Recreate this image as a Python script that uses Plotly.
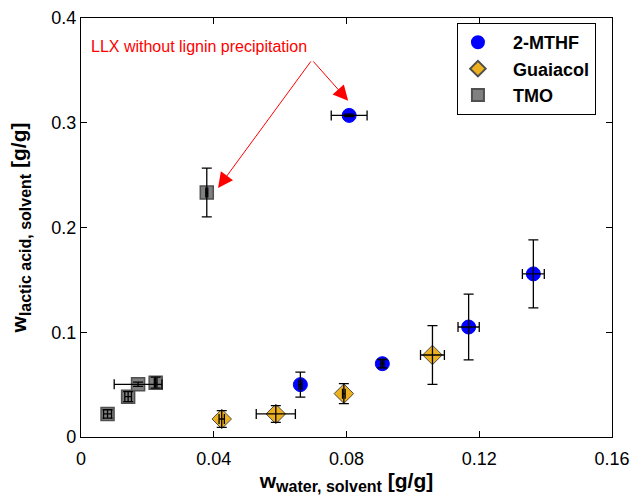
import plotly.graph_objects as go

# ---- data ----
mthf_x = [0.0808, 0.0661, 0.0908, 0.1168, 0.1363]
mthf_y = [0.307, 0.050, 0.070, 0.105, 0.1557]
mthf_xerr = [0.0054, 0.0005, 0.0005, 0.0032, 0.0033]
mthf_yerr = [0.0012, 0.012, 0.004, 0.0314, 0.0325]

gua_x = [0.0424, 0.0587, 0.0792, 0.1059]
gua_y = [0.0172, 0.022, 0.0414, 0.0783]
gua_xerr = [0.0008, 0.0059, 0.0004, 0.0036]
gua_yerr = [0.008, 0.008, 0.0096, 0.028]

tmo_x = [0.0379, 0.0080, 0.0142, 0.0172, 0.0225]
tmo_y = [0.2334, 0.022, 0.0385, 0.0503, 0.0519]
tmo_xerr = [0.0003, 0.0012, 0.0010, 0.0072, 0.0004]
tmo_yerr = [0.0232, 0.004, 0.0048, 0.0020, 0.0052]

x_ticks = [0, 0.04, 0.08, 0.12, 0.16]
x_labels = ["0", "0.04", "0.08", "0.12", "0.16"]
y_ticks = [0, 0.1, 0.2, 0.3, 0.4]
y_labels = ["0", "0.1", "0.2", "0.3", "0.4"]

note_text = "LLX without lignin precipitation"
note_pos = (0.0024, 0.3725)
arrow_tail = (0.0696, 0.360)
arrow_tips = [(0.0805, 0.321), (0.0413, 0.2378)]

FONT = "Liberation Sans, Arial, sans-serif"

fig = go.Figure()

series = [
    ("2-MTHF", mthf_x, mthf_y, mthf_xerr, mthf_yerr,
     dict(symbol="circle", size=14, color="#0000ff", line=dict(color="#0000ff", width=1))),
    ("Guaiacol", gua_x, gua_y, gua_xerr, gua_yerr,
     dict(symbol="diamond", size=15, color="#EDB120", line=dict(color="#4d4d4d", width=1))),
    ("TMO", tmo_x, tmo_y, tmo_xerr, tmo_yerr,
     dict(symbol="square", size=13, color="#808080", line=dict(color="#505050", width=1.5))),
]

for name, xs, ys, xe, ye, mk in series:
    fig.add_trace(go.Scatter(x=xs, y=ys, mode="markers", name="   " + name, marker=mk))

for name, xs, ys, xe, ye, mk in series:
    fig.add_trace(go.Scatter(
        x=xs, y=ys, mode="markers", showlegend=False, hoverinfo="skip",
        marker=dict(size=1, color="rgba(0,0,0,0)"),
        error_x=dict(type="data", array=xe, color="black", thickness=1.3, width=5),
        error_y=dict(type="data", array=ye, color="black", thickness=1.3, width=5),
    ))

fig.add_annotation(x=note_pos[0], y=note_pos[1], xref="x", yref="y", text=note_text,
                   showarrow=False, xanchor="left", yanchor="middle",
                   font=dict(family=FONT, size=16, color="#ff0000"))
for tx, ty in arrow_tips:
    fig.add_annotation(x=tx, y=ty, xref="x", yref="y", ax=arrow_tail[0], ay=arrow_tail[1],
                       axref="x", ayref="y", text="", showarrow=True,
                       arrowhead=2, arrowsize=3, arrowwidth=1, arrowcolor="#ff0000",
                       font=dict(size=12))

axis_common = dict(showline=True, linecolor="black", linewidth=1.2, mirror="ticks",
                   ticks="inside", ticklen=6, tickcolor="black", showgrid=False,
                   zeroline=False, automargin=False,
                   tickfont=dict(family=FONT, size=18, color="black"))

fig.update_xaxes(range=[0, 0.16], tickvals=x_ticks, ticktext=x_labels,
                 ticklabelstandoff=5,
                 title=dict(text='<b>w<sub><span style="font-size:16px">water, solvent</span></sub> [g/g]</b>',
                            font=dict(family=FONT, size=21, color="black"), standoff=4),
                 **axis_common)
fig.update_yaxes(range=[0, 0.4], tickvals=y_ticks, ticktext=y_labels,
                 title=dict(text='<b>w<sub><span style="font-size:16px">lactic acid, solvent</span></sub> [g/g]</b>',
                            font=dict(family=FONT, size=21, color="black"), standoff=18),
                 **axis_common)

fig.update_layout(
    width=633, height=499,
    margin=dict(l=81, r=21, t=18, b=62),
    plot_bgcolor="white", paper_bgcolor="white",
    font=dict(family=FONT, color="black"),
    legend=dict(x=0.708, y=0.988, xanchor="left", yanchor="top",
                bgcolor="white", bordercolor="black", borderwidth=1,
                font=dict(family=FONT, size=18, color="black", weight="bold"),
                itemsizing="constant", tracegroupgap=0),
)

fig.write_html("out.html", config={"displayModeBar": False},
               post_script="document.body.style.margin='0px';")
